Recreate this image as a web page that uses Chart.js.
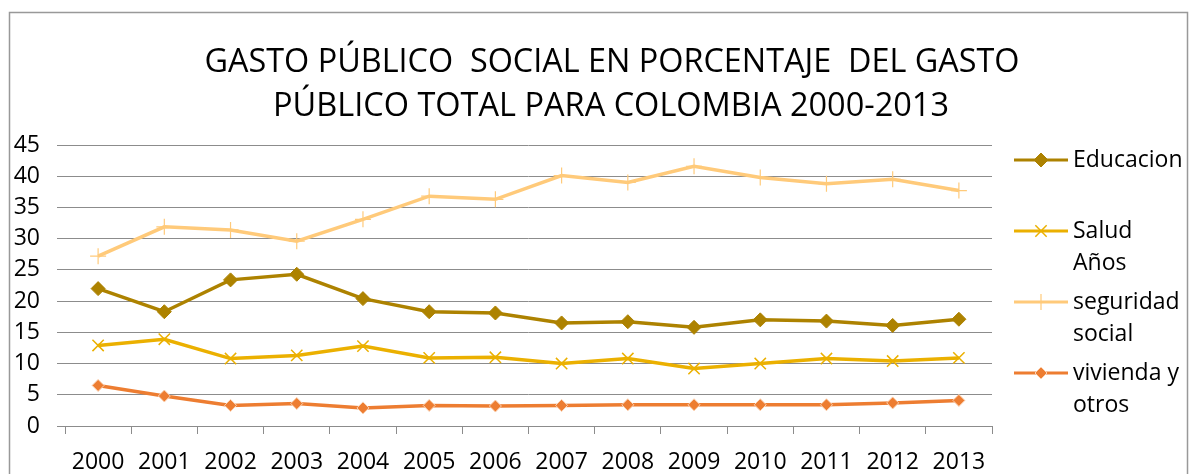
<!DOCTYPE html>
<html>
<head>
<meta charset="utf-8">
<title>Gasto público social Colombia 2000-2013</title>
<script src="https://cdn.jsdelivr.net/npm/chart.js@4.4.1/dist/chart.umd.min.js"></script>
<style>
  html, body { margin: 0; padding: 0; background: #fff; }
  #chart { display: block; }
</style>
</head>
<body>
<canvas id="chart" width="1194" height="474"></canvas>
<script>
// Data
const years = ['2000', '2001', '2002', '2003', '2004', '2005', '2006',
               '2007', '2008', '2009', '2010', '2011', '2012', '2013'];
const educacion = [22.0, 18.3, 23.4, 24.3, 20.4, 18.3, 18.1, 16.5, 16.7, 15.8, 17.0, 16.8, 16.1, 17.1];
const salud     = [12.9, 13.9, 10.8, 11.3, 12.8, 10.9, 11.0, 10.0, 10.8, 9.2, 10.0, 10.8, 10.4, 10.9];
const seguridad = [27.2, 31.9, 31.4, 29.6, 33.1, 36.8, 36.3, 40.1, 39.0, 41.6, 39.8, 38.8, 39.5, 37.7];
const vivienda  = [6.5, 4.8, 3.3, 3.6, 2.9, 3.3, 3.2, 3.3, 3.4, 3.4, 3.4, 3.4, 3.7, 4.1];
const seriesNames = [['Educacion'], ['Salud', 'Años'], ['seguridad', 'social'], ['vivienda y', 'otros']];
const titleLines = ['GASTO PÚBLICO  SOCIAL EN PORCENTAJE  DEL GASTO', 'PÚBLICO TOTAL PARA COLOMBIA 2000-2013'];

const FONT = '"Open Sans", "DejaVu Sans", sans-serif';
const GRID = '#8c8c8c';

// Outer frame + title
const framePlugin = {
  id: 'frame',
  beforeDraw(chart) {
    const ctx = chart.ctx;
    ctx.save();
    ctx.fillStyle = '#fff';
    ctx.fillRect(0, 0, chart.width, chart.height);
    ctx.strokeStyle = '#999';
    ctx.lineWidth = 1.5;
    ctx.strokeRect(9.5, 12.5, 1178, 480);
    ctx.restore();
  },
  afterDraw(chart) {
    const ctx = chart.ctx;
    ctx.save();
    ctx.fillStyle = '#000';
    ctx.font = '32.5px ' + FONT;
    ctx.textAlign = 'center';
    ctx.textBaseline = 'alphabetic';
    ctx.fillText(titleLines[0], 612, 72, 815);
    ctx.fillText(titleLines[1], 611, 116, 677);
    ctx.restore();
  }
};

// Legend on the right, with two-line labels
const legendPlugin = {
  id: 'sideLegend',
  afterDraw(chart) {
    const ctx = chart.ctx;
    ctx.save();
    chart.data.datasets.forEach((ds, i) => {
      const y = 160 + i * 71;
      ctx.strokeStyle = ds.borderColor;
      ctx.lineWidth = 3;
      ctx.beginPath();
      ctx.moveTo(1014, y);
      ctx.lineTo(1068, y);
      ctx.stroke();
      ctx.fillStyle = ds.pointBackgroundColor;
      ctx.strokeStyle = ds.pointBorderColor;
      ctx.lineWidth = ds.pointBorderWidth;
      Chart.helpers.drawPoint(ctx, {
        pointStyle: ds.pointStyle,
        radius: ds.pointRadius,
        borderWidth: ds.pointBorderWidth,
        rotation: 0
      }, 1041, y);
      ctx.fillStyle = '#000';
      ctx.font = '23px ' + FONT;
      ctx.textAlign = 'left';
      ctx.textBaseline = 'middle';
      seriesNames[i].forEach((line, k) => ctx.fillText(line, 1073, y + k * 32));
    });
    ctx.restore();
  }
};

function lineSet(idx, data, color, style, radius, ptBorder, ptBorderWidth) {
  return {
    label: seriesNames[idx].join(' '),
    data: data,
    borderColor: color,
    backgroundColor: color,
    borderWidth: 3.5,
    tension: 0,
    pointStyle: style,
    pointRadius: radius,
    pointHoverRadius: radius,
    pointBackgroundColor: color,
    pointBorderColor: ptBorder,
    pointBorderWidth: ptBorderWidth
  };
}

new Chart(document.getElementById('chart'), {
  type: 'line',
  data: {
    labels: years,
    datasets: [
      lineSet(0, educacion, '#ad8200', 'rectRot', 7, '#ad8200', 1),
      lineSet(1, salud, '#ebb000', 'crossRot', 8, '#ebb000', 1.5),
      lineSet(2, seguridad, '#ffca7a', 'cross', 8, '#ffca7a', 1.2),
      lineSet(3, vivienda, '#ed7d31', 'rectRot', 6, '#fbd3b5', 1)
    ]
  },
  options: {
    responsive: false,
    animation: false,
    devicePixelRatio: 1,
    layout: { padding: { top: 145, right: 202, left: 0, bottom: 0 } },
    plugins: {
      legend: { display: false },
      title: { display: false },
      tooltip: { enabled: true }
    },
    scales: {
      x: {
        offset: true,
        grid: { offset: true, drawOnChartArea: false, drawTicks: true, tickLength: 8, color: GRID },
        border: { display: true, color: GRID },
        ticks: { color: '#000', font: { family: FONT, size: 23 }, padding: 15, maxRotation: 0, autoSkip: false },
        afterFit(scale) { scale.height = 48; }
      },
      y: {
        min: 0,
        max: 45,
        grid: { color: GRID, tickLength: 8 },
        border: { display: false },
        ticks: { stepSize: 5, color: '#000', font: { family: FONT, size: 23 }, padding: 17 },
        afterFit(scale) { scale.width = 65; }
      }
    }
  },
  plugins: [framePlugin, legendPlugin]
});
</script>
</body>
</html>
